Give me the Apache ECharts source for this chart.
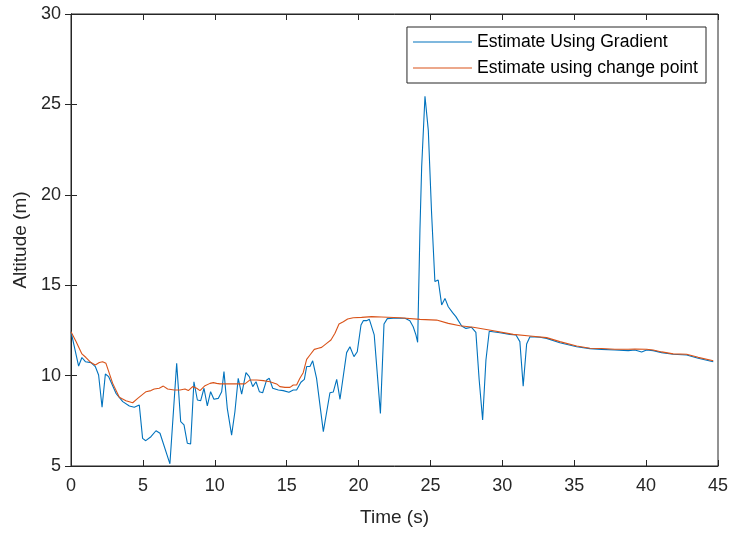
<!DOCTYPE html>
<html><head><meta charset="utf-8">
<script src="https://cdn.jsdelivr.net/npm/echarts@6/dist/echarts.min.js"></script>
<style>html,body{margin:0;padding:0;background:#fff}#c{width:733px;height:535px}</style>
</head><body><div id="c"></div>
<script>
const gradTime = [0,0.53,0.76,1.0,1.39,1.69,1.92,2.16,2.39,2.62,3.13,3.6,4.06,4.4,4.75,4.98,5.2,5.56,5.91,6.19,6.88,7.35,7.63,7.86,8.09,8.32,8.55,8.79,9.02,9.25,9.48,9.71,9.94,10.24,10.48,10.64,10.87,11.17,11.4,11.63,11.87,12.17,12.4,12.64,12.87,13.1,13.33,13.61,13.79,14.03,14.42,14.76,15.16,15.46,15.69,15.99,16.23,16.39,16.62,16.81,17.08,17.55,18.01,18.24,18.48,18.71,19.17,19.4,19.68,19.91,20.17,20.33,20.56,20.75,20.86,21.09,21.52,21.77,22.0,22.41,22.88,23.23,23.57,23.8,23.99,24.11,24.27,24.39,24.62,24.85,25.08,25.31,25.54,25.78,26.01,26.24,26.54,26.77,27.17,27.47,27.86,28.16,28.39,28.63,28.86,29.09,29.83,30.53,30.95,31.22,31.45,31.69,31.92,32.61,33.08,34.0,35.17,36.09,36.9,37.83,38.76,39.22,39.69,40.03,40.49,41.08,41.88,42.82,43.62,44.67];
const gradAlt = [12.43,10.53,11.0,10.77,10.72,10.5,10.03,8.25,10.09,9.94,9.02,8.56,8.32,8.25,8.37,6.53,6.4,6.62,6.95,6.81,5.12,10.68,7.45,7.27,6.26,6.22,9.66,8.65,8.61,9.3,8.32,9.11,8.69,8.74,9.11,10.22,8.19,6.71,8.0,9.85,8.98,10.16,9.94,9.39,9.66,9.11,9.05,9.76,9.85,9.3,9.2,9.17,9.08,9.2,9.2,9.63,9.79,10.5,10.5,10.82,9.85,6.9,9.05,9.09,9.79,8.69,11.27,11.6,11.05,11.32,12.8,13.04,13.04,13.11,13.2,12.25,7.91,12.85,13.15,13.17,13.17,13.17,13.04,12.7,12.25,11.84,18.05,21.55,25.45,23.58,18.98,15.2,15.29,13.91,14.27,13.81,13.48,13.26,12.74,12.61,12.67,12.39,9.76,7.54,10.86,12.45,12.37,12.28,12.25,11.88,9.42,11.75,12.15,12.12,12.06,11.82,11.6,11.49,11.45,11.42,11.38,11.42,11.31,11.42,11.38,11.27,11.18,11.14,10.96,10.77];
const cpTime = [0,0.35,0.76,1.04,1.39,1.69,1.97,2.2,2.43,2.9,3.36,3.82,4.29,4.64,5.22,5.56,5.79,6.14,6.42,6.72,7.18,7.58,7.93,8.16,8.46,8.74,8.97,9.32,9.67,9.9,10.13,10.36,10.83,11.52,12.1,12.45,12.91,13.37,13.84,14.3,14.53,14.88,15.23,15.46,15.69,15.92,16.15,16.39,16.62,16.92,17.2,17.43,17.78,18.08,18.36,18.64,18.94,19.24,19.63,20.21,20.91,21.6,22.88,24.27,25.43,26.24,27.05,27.98,29.09,30.76,31.92,33.08,34.0,35.17,36.09,36.9,37.83,38.76,39.22,40.03,40.49,41.08,41.88,42.82,43.62,44.67];
const cpAlt = [12.43,11.88,11.2,11.0,10.72,10.59,10.72,10.77,10.68,9.57,8.8,8.61,8.5,8.74,9.11,9.17,9.26,9.3,9.42,9.26,9.2,9.2,9.26,9.17,9.39,9.3,9.17,9.44,9.57,9.61,9.57,9.54,9.54,9.54,9.54,9.76,9.76,9.72,9.66,9.54,9.39,9.35,9.35,9.48,9.48,9.85,10.16,10.9,11.14,11.45,11.51,11.56,11.78,11.97,12.34,12.85,12.98,13.13,13.2,13.22,13.26,13.24,13.2,13.11,13.07,12.89,12.76,12.67,12.52,12.28,12.19,12.1,11.88,11.64,11.51,11.5,11.46,11.46,11.47,11.46,11.42,11.31,11.2,11.18,11.01,10.82];
const seriesNames = ['Estimate Using Gradient','Estimate using change point'];
const xLabel = 'Time (s)', yLabel = 'Altitude (m)';

const pair = (a,b)=>a.map((v,i)=>[v,b[i]]);
const axisCol = '#262626';
const font = 'Liberation Sans, Arial, sans-serif';
const chart = echarts.init(document.getElementById('c'), null, {renderer:'canvas'});
const tickCommon = {inside:true, length:6, lineStyle:{color:axisCol}};
chart.setOption({
  animation:false,
  backgroundColor:'#fff',
  grid:{left:71, right:15, top:14, bottom:69, show:true, borderColor:axisCol, borderWidth:1},
  legend:{
    right:27, top:27, orient:'vertical', data:seriesNames, icon:'rect',
    backgroundColor:'#fff', borderColor:axisCol, borderWidth:1,
    padding:[5,8,5,6], itemGap:6, itemWidth:59, itemHeight:1.2,
    textStyle:{fontFamily:font, fontSize:17.6, color:'#000', padding:[0,0,0,0], lineHeight:20}
  },
  xAxis:[
    {type:'value', min:0, max:45, interval:5, position:'bottom',
     name:xLabel, nameLocation:'middle', nameGap:42,
     nameTextStyle:{fontFamily:font, fontSize:19, color:axisCol},
     axisLine:{lineStyle:{color:axisCol}}, axisTick:tickCommon,
     axisLabel:{fontFamily:font, fontSize:18, color:axisCol, margin:11},
     splitLine:{show:false}},
    {type:'value', min:0, max:45, interval:5, position:'top',
     axisLine:{show:true, lineStyle:{color:axisCol}}, axisTick:tickCommon,
     axisLabel:{show:false}, splitLine:{show:false}}
  ],
  yAxis:[
    {type:'value', min:5, max:30, interval:5, position:'left',
     name:yLabel, nameLocation:'middle', nameGap:35, nameRotate:90,
     nameTextStyle:{fontFamily:font, fontSize:19, color:axisCol},
     axisLine:{show:true, lineStyle:{color:axisCol}}, axisTick:tickCommon,
     axisLabel:{fontFamily:font, fontSize:18, color:axisCol, margin:10},
     splitLine:{show:false}},
    {type:'value', min:5, max:30, interval:5, position:'right',
     axisLine:{show:true, lineStyle:{color:axisCol}}, axisTick:tickCommon,
     axisLabel:{show:false}, splitLine:{show:false}}
  ],
  series:[
    {name:seriesNames[0], type:'line', data:pair(gradTime,gradAlt), symbol:'none',
     lineStyle:{color:'#0072BD', width:1.1}, itemStyle:{color:'#0072BD'}, z:2},
    {name:seriesNames[1], type:'line', data:pair(cpTime,cpAlt), symbol:'none',
     lineStyle:{color:'#D95319', width:1.1}, itemStyle:{color:'#D95319'}, z:3}
  ]
});
</script></body></html>
